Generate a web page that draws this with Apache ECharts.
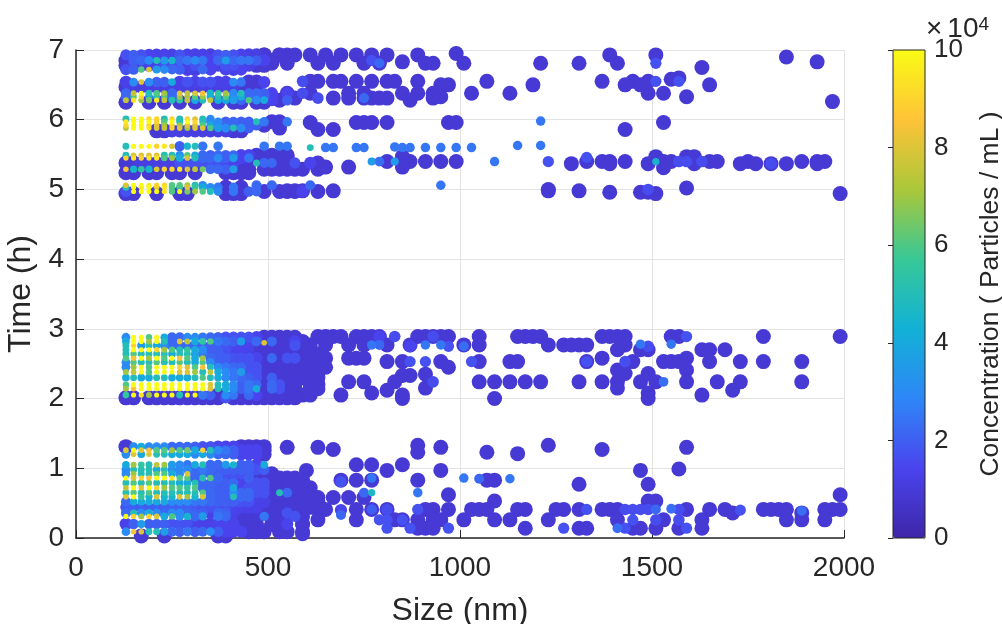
<!DOCTYPE html>
<html><head><meta charset="utf-8">
<style>html,body{margin:0;padding:0;background:#fff}#c{width:1002px;height:624px}</style>
<script src="https://cdn.jsdelivr.net/npm/echarts@6/dist/echarts.min.js"></script></head>
<body><div id="c"></div>
<script>
const parula=['#3e26a8','#4a44ee','#2e87f7','#12b1d6','#37c897','#abc739','#fec338','#f9fb15'];
const denseSizes=[130,150,170,190,210,230,250,270,290,310,330,350,370,390,410,430,450,470,490,510,530,550,570,590,610,630];
// concentration in units of 1e4 particles/mL, one value per denseSizes column (0 = no particle)
const denseUpper=[
[6.93,[1.7,2,1.7,1.4,1.3,1.3,1.3,1.7,1.3,1.2,1.3,1.2,1.7,2,1.7,1.3,1.2,1.2,.9,0,.9,.9]],
[6.85,[.9,2,2.2,3,5,3.5,4.5,2.2,2.5,3,2.5,1.4,2.2,3.5,2.2,2.5,2.5,2,1.4,.9]],
[6.78,[.9,1.3,1.3,1.3,1.3,1.7,1.7,1.3,1.3,1.7,1.3,1.3,1.3,1.7,1.7,1.3,1.3,.9,.9]],
[6.72,[1.7,2,6,8,3.5,3,2.2,2,1.3,1.2,2.2,1.4,0,1.4,1.3,1.4]],
[6.54,[1.3,3,8,3,2,2,4,1.3,1.7,1.3,1.7,1.7,1.3,1.3,3,2.5,.9,.9,1.4]],
[6.47,[.9,1.2,1.2,1.2,1.2,1.2,1.2,1.2,1.2,1.2,1.2,1.2,1.2,1.2,1.2,.9,.9,.9]],
[6.38,[2.2,7.5,10,5,6,7,2.2,8,7.5,8,8.5,4.5,5.5,7,3,5,2.2,2.2,2,1.4,0,1.4]],
[6.33,[2,6,9,4,5,6,2.2,7,7,6,7,4,5,6,3,4,2.2,2,2,1.4]],
[6.28,[7.5,9.5,7,6.5,9.5,7.5,5,5.5,7.5,4,5,7.5,4,4,3.5,2.2,6,3,4,1.4,.9,2]],
[6.25,[.9,0,0,.9,0,.9,0,.9,0,.9,0,0,.9,0,.9,.9,0,.9,.9]],
[6.01,[5,10,10,9,9,5,9,5,9,8,5,3,0,0,0,0,0,0,0]],
[5.97,[9.5,10,10,10,9,6,10,5,10,9,5,3,3,2,2.2,2,2,5,2.5,.9,.9,2.5]],
[5.92,[9,10,10,9,8,7,9,7,8,8,6,4,3,2.2,2.2,2,2,2,.9]],
[5.88,[7.5,10,10,9.5,8,7.5,9,8,7,8,8,6,3.5,3,5,3,2,0,0,0,.9]],
[5.84,[0,0,0,0,.9,.9,1.2,1.2,1.2,1.2,1.2,1.2,1.2,1.2,.9,.9]],
[5.62,[5,10,10,10,9,9.5,8,2,4.5,5,2.5,0,2.5,0,0,0,0,0,2.5,0,2.5,2.5]],
[5.49,[5,8,8,8,8,5,5,3,6,4,2.2,2,2.2,2,2.2,1.4,1.4,.9,.9,.9,.9,.9]],
[5.45,[9,9.5,9,9.5,9.5,6,7,4,8,5,2.2,2.2,3,2,3.5,1.4,2.5,.9,.9,.9,.9,.9]],
[5.38,[.9,.9,1.2,1.2,1.2,1.2,1.2,1.7,1.7,1.7,1.7,1.7,1.7,1.4,1.4,.9,.9,5,2.2,2.2,0,.9,1.7,0,1.4,.9]],
[5.29,[8.5,4.5,5.5,4.5,8,9,9,9.5,8,7.5,6.5,2.2,2.2,2,3.5,.9,.9,0,.9,.9,.9,.9,.9,.9,0,.9]],
[5.24,[.9,.9,0,.9,.9,0,.9,.9,0,.9,0,0,0,.9,.9,.9,.9]],
[5.06,[8,10,10,9.5,9,9,6,6,7,5,3,0,0,0,0,0,0,2.2,0,2.2,0,0,0,0,2.2]],
[5.03,[5,10,9.5,10,8,9.5,6,5.5,8,5.5,4,3,2.5,.9,2.5,.9]],
[4.97,[1.7,10,10,10,10,9.5,6,10,6.5,7,6,5,3,.9,2.5,.9,2,2.2,.9,0,.9,.9,.9,1.4,0,.9]],
[4.94,[.9,.9,0,0,.9,0,0,.9,.9,0,0,0,0,.9,.9,.9]]
];
const denseMiddle=[
[2.88,[3,10,10,6,10,4,2.2,2.2,3,3,2.5,2.2,2,1.7,1.7,1.7,1.7,1.4,.9,.9,.9,.9,.9]],
[2.82,[4,10,10,7,10,5,2.2,8,7.5,4,5.5,6,2.5,2.2,2,3.5,1.4,2.2,.9,2.2,.9,.9,1.4,.9]],
[2.76,[5,9,3.5,5,4,3,2.2,2.2,2.2,2.2,2.2,2,1.7,1.7,1.4,1.4,1.4,.9,.9,0,.9,.9,1.7,.9]],
[2.70,[5,10,10,10,9,7,6,5,5.5,4,3,2,2,1.7,1.3,1.3,.9,.9,.9,.9,0,.9,.9,.9,.9]],
[2.64,[5,6,5,5,5,5,4,5,5,3.5,2.5,2,2,1.7,1.4,1.4,1.2,.9,.9,.9,.9,.9,.9,.9,0,.9]],
[2.58,[6,8.5,10,7,10,6,10,8.5,6,4,7,2.2,2,2,1.7,1.7,1.7,1.4,.9,2.2,.9,1.7,1.7,.9,.9,.9]],
[2.52,[3,6,5,5,6,5,5,6,5,4,6,3,2,1.7,1.7,1.7,1.7,.9,.9,.9,.9,.9,.9,.9,.9,.9]],
[2.45,[3,7,10,6,10,10,10,9,8,6,8.5,5,3,2.5,2.2,2.2,1.7,1.7,.9,.9,.9,.9,.9,.9,.9,.9]],
[2.38,[7,7.5,10,6,10,10,10,8,8,7,5,7.5,4,3,2.5,3.5,1.7,1.7,.9,.9,.9,.9,.9,0,0,.9]],
[2.30,[4,5,4,4,5,5,4,4,4,5,6,5,4,3,2.5,2.2,2,1.7,.9,2,.9,.9,.9,.9,.9,.9]],
[2.20,[6,10,10,10,10,10,10,10,10,10,10,8,5,4,3,2,2.5,2.2,.9,2.2,1.7,.9,.9,0,.9,.9]],
[2.14,[7,8.5,10,10,10,10,10,10,10,10,10,8,5,4,3,2,2.5,4,.9,2.2,1.7,.9,.9,0,.9,.9]],
[2.05,[5.5,10,9.5,7,10,10,10,5,10,10,2.5,2,.9,3,2.5,.9,2.2,1.4,.9,.9,.9,.9,.9,.9,.9]],
[2.01,[.9,.9,0,.9,.9,.9,.9,.9,.9,.9,.9,.9,.9,1.7,.9,.9,.9,.9,.9,.9,.9,.9,.9]]
];
const denseLower=[
[1.31,[.9,3,4,3,3,3,2.2,2.2,2.2,2,1.7,1.7,1.4,1.4,1.4,.9,.9,.9,.9]],
[1.26,[8,10,8,8.5,6,6,7,6,6.5,4,9,5,3,2.5,2,1.4,1.4,1.4,.9]],
[1.2,[3,8,4,8,5,5,4,4,4,3,4,3,2.2,2.2,2,1.4,1.4,1.4,.9]],
[1.05,[4,7,5.5,5,7.5,7,3.5,3,2.5,4,5,2.2,2.2,3.5,4.5,2,2,1.4,4]],
[.98,[3,5,5,5,4,5,3,3,3,2.2,2.5,2.2,2,2,2,2,2,1.7,2]],
[.92,[3,7,5,5,6,6,4,3,8,2.2,2.2,2,2,1.7,1.7,1.7,1.7,.9,.9,.9]],
[.86,[10,8,9,8.5,10,10,9.5,6,6,2,5,6,2.2,1.4,1.4,.9,2,.9,.9,.9,.9,.9,.9]],
[.79,[5,6,5,6,5,5,5,4,4,5,2.2,2.2,2,2,2.2,1.4,1.4,1.7,1.7,.9,.9,.9,.9]],
[.72,[7.5,10,8,10,9,7,6,6,5.5,6,2.2,2,2,2,4,1.4,1.7,1.7,1.7,.9,.9,.9,.9,.9,.9]],
[.65,[5,6,5,6,5,5,5,5,5,5,6,2.2,2,2,3,2.2,2.2,1.7,1.7,.9,5,2.2,.9,.9]],
[.59,[8,10,5.5,4.5,8,4.5,4.5,8,7,4.5,8,2.2,2,2,5,2.2,2.2,.9,.9,.9,.9,.9,.9,.9]],
[.52,[2.2,4,4,4,4,4,3,3,3,2.5,2.5,2.2,2,2,2,1.7,1.7,1.3,1.3,.9,.9,.9,.9,.9,.9,.9]],
[.44,[1.7,2,2,2,2,2,2,2,2,1.7,1.7,1.7,1.7,1.7,1.4,1.3,1.3,1.3,.9,.9,.9,.9,.9,.9,.9,.9]],
[.36,[2.2,5,3,4,3,2.2,3,3,2.2,2,2,1.3,2.2,2,1.3,.9,.9,.9,.9,.9,.9,1.7]],
[.31,[10,9,7,9,8,4,6,3,4.5,2.2,3.5,0,2.5,2.2,.9,.9,.9,.9,2.5,.9,.9,.9,1.7,.9]],
[.2,[1.3,2,3.5,2,2,2,1.7,1.7,1.7,1.3,1.3,1.3,1.4,1.4,1.4,.9,.9,.9,0,.9,.9,1.4,0,.9]],
[.09,[3,8.5,8,5,5,3.5,2.2,2,2.5,2,2.2,3,2,1.4,1.4,1.4,.9,.9,.9,0,.9,.9,0,.9]],
[.03,[0,0,.9,0,0,.9,0,0,0,0,0,0,.9,.9]]
];
// isolated low-concentration particles: [time, sizes]
const darkUpper=[
[6.95,[990]],[6.93,[490,530,570,610,650,690,730,770,810,890,1390,1510]],
[6.81,[510,550,630,670,750,790,910,930,1010,1210,1310,1410]],[6.75,[1630]],[6.9,[1850]],[6.83,[850,1930]],
[6.26,[1970]],[6.6,[1570]],[6.58,[1550]],
[6.55,[610,630,670,690,730,770,810,830,890,1070,1370,1450,1490]],
[6.5,[950,970,1190,1430,1470,1650]],
[6.38,[550,610,710,750,850,890,930,1030,1130,1490,1530]],
[6.31,[570,670,710,750,770,790,810,930]],[6.33,[950,1590]],[6.28,[870]],
[5.96,[610,730,750,770,810,970,990,1530]],[5.86,[630,670,1430]],
[5.47,[850,1510,1590,1610]],[5.40,[810,870,910,950,990,1330,1370,1390,1430,1530,1550,1650,1670,1750,1890,1930,1950]],
[5.37,[1290,1390,1490,1610,1730,1770,1810,1850,1930]],[5.32,[650,710,850]],[5.31,[1530]],
[4.98,[550,570,590,670,1230,1310]],[5.0,[1230]],[4.96,[1390,1470,1490]],[4.94,[1510,1990]],[5.02,[1590]]
];
const darkMiddle=[
[2.89,[630,650,670,690,730,750,770,790,890,910,930,950,970,1050,1150,1170,1190,1210,1370,1390,1410,1430,1550,1570,1790,1990]],
[2.77,[610,650,710,750,810,870,1010,1050,1230,1270,1290,1310,1330,1430]],
[2.7,[1410,1470,1490,1630,1650,1690]],
[2.58,[650,710,730,750,1590,1370]],[2.53,[810,850,950,1050,1130,1150,1330,1450,1530,1550,1570,1650,1730,1790,1890]],
[2.45,[650,970]],[2.41,[1410,1590]],[2.36,[1430,1490]],[2.33,[850,870]],[2.35,[910]],
[2.24,[710,750,830,1050,1090,1130,1170,1210,1310,1370,1410,1470,1510,1590,1670,1730,1890]],
[2.15,[910,1410]],[2.12,[810,1710]],[2.08,[770,1490]],[2.05,[690,850,1630]],[2.0,[850,1090,1490]]
];
const darkLower=[
[1.33,[890,1230]],[1.3,[550,630,950,1590]],[1.27,[670,1370]],[1.23,[890,1070]],[1.21,[1150]],
[1.05,[730,770,850]],[.97,[810,950,1470,600]],[.99,[1570]],
[.83,[590,690,730,770,890,1070,1090]],[.77,[1310,1490]],
[.62,[530,970,1990]],[.58,[590,630,670,710,750]],[.53,[1090,1490,1510]],
[.41,[570,630,650,730,770,810,910,930,970,1030,1050,1070,1150,1170,1250,1270,1310,1370,1390,1410,1590,1650,1690,1790,1810,1830,1850,1950,1970,1990]],
[.36,[1710,1890]],
[.26,[630,730,830,850,890,930,950,1010,1090,1130,1230,1410,1530,1630,1850,1890,1950]],
[.2,[510,590]],[.14,[530,890,910,930,1170,1310,1330,1450,1470,1510,1570,1630]],[.06,[590]]
];
// lighter or smaller particles: [size, time, concentration]
const sparsePoints=[
[770,6.85,1.7],[790,6.81,2.2],[1510,6.81,1.7],[1510,6.55,1.7],[1570,6.55,1.7],[590,6.55,1.6],[590,6.38,1.6],[630,6.31,1.6],[750,6.31,2.2],
[1210,5.98,2.5],[830,5.61,2.5],[850,5.6,2.5],[870,5.6,2.5],[910,5.6,2.5],[950,5.6,2.5],[990,5.6,2.5],[1030,5.6,2.5],[1150,5.63,2.5],[1210,5.63,2.5],
[670,5.6,2.5],[730,5.6,2.5],[750,5.6,2.5],[610,5.6,5],[650,5.6,2.5],
[770,5.4,3.5],[790,5.4,2.3],[830,5.4,3.5],[1090,5.4,2.5],[1230,5.4,1.7],[1330,5.46,1.7],[1510,5.4,4.5],[1570,5.4,1.6],[1590,5.4,1.6],[1630,5.4,1.6],[1810,5.37,1.6],
[950,5.06,2.5],[1490,5.0,1.6],
[1010,2.75,2.3],[1470,2.78,2.5],[1490,2.75,1.6],[1550,2.78,2.5],[1590,2.89,1.7],[930,2.89,1.6],[830,2.89,1.6],[790,2.89,1.4],[910,2.77,2.5],[950,2.77,2.5],[770,2.77,2.5],[790,2.77,2.2],[970,2.75,1.7],[870,2.75,1.4],
[490,2.8,8],[1030,2.53,1.7],[870,2.53,1.7],[910,2.53,1.7],[1330,2.53,1.7],[1430,2.53,1.6],[930,2.24,1.6],[1530,2.24,2.3],
[1010,.86,2.5],[1050,.85,2.2],[1130,.85,2.5],[890,.65,2.5],[770,.86,2.5],[770,.65,4.7],[750,.65,2.2],[690,.81,1.7],[690,.33,2.2],[690,.4,1.4],
[770,.41,2],[810,.41,1.6],[890,.41,1.7],[1330,.41,1.7],[1430,.41,1.6],[1450,.41,1.6],[1470,.41,1.6],[1490,.41,1.6],[1510,.41,2.2],[1550,.42,2.3],[1570,.41,1.6],[1730,.4,1.7],[1890,.39,2.3],
[790,.26,1.7],[810,.26,1.7],[850,.26,1.7],[1450,.26,1.7],[1510,.26,1.6],[1570,.26,1.6],[810,.14,1.7],[870,.14,1.7],[970,.14,1.7],[1270,.14,1.7],[1410,.14,2.3],[1430,.14,1.7],[1590,.14,1.7]
];
const DARK=.9;
const points=[];
[denseUpper,denseMiddle,denseLower].forEach(b=>b.forEach(([t,cs])=>cs.forEach((c,i)=>{if(c)points.push([denseSizes[i],t,c]);})));
[darkUpper,darkMiddle,darkLower].forEach(b=>b.forEach(([t,ss])=>ss.forEach(s=>points.push([s,t,DARK]))));
sparsePoints.forEach(p=>points.push(p));
points.sort((a,b)=>a[2]-b[2]);
const F='"Liberation Sans",Arial,sans-serif',INK='#262626';
const chart=echarts.init(document.getElementById('c'),null,{renderer:'canvas'});
chart.setOption({
 animation:false,backgroundColor:'#fff',
 textStyle:{fontFamily:F},
 grid:[{left:76,top:50,width:768,height:488,outerBoundsMode:'none'},
       {left:893,top:50,width:32,height:488,z:10,show:true,backgroundColor:'transparent',borderColor:INK,borderWidth:1,outerBoundsMode:'none'}],
 xAxis:[{type:'value',gridIndex:0,min:0,max:2000,interval:500,
   name:'Size (nm)',nameLocation:'middle',nameGap:57,nameTextStyle:{fontSize:32,color:INK,fontFamily:F},
   axisLine:{show:true,onZero:false,lineStyle:{color:INK,width:1.5}},
   axisTick:{show:true,inside:true,length:8,lineStyle:{color:INK,width:1}},
   axisLabel:{fontSize:28,color:INK,margin:16,fontFamily:F,formatter:v=>String(v),showMinLabel:true,showMaxLabel:true,hideOverlap:false},
   splitLine:{show:true,lineStyle:{color:'#e3e3e3',width:1}}},
  {type:'value',gridIndex:1,min:0,max:1,show:false}],
 yAxis:[{type:'value',gridIndex:0,min:0,max:7,interval:1,
   name:'Time (h)',nameLocation:'middle',nameGap:34,nameTextStyle:{fontSize:32,color:INK,fontFamily:F},
   axisLine:{show:true,onZero:false,lineStyle:{color:INK,width:1.5}},
   axisTick:{show:true,inside:true,length:8,lineStyle:{color:INK,width:1}},
   axisLabel:{fontSize:28,color:INK,margin:12,fontFamily:F,showMinLabel:true,showMaxLabel:true,hideOverlap:false},
   splitLine:{show:true,lineStyle:{color:'#e3e3e3',width:1}}},
  {type:'value',gridIndex:1,position:'right',min:0,max:10,interval:2,
   name:'Concentration ( Particles / mL )',nameLocation:'middle',nameGap:52,nameRotate:90,
   nameTextStyle:{fontSize:26.5,color:INK,fontFamily:F},
   axisLine:{show:false},axisTick:{show:true,inside:true,length:5,lineStyle:{color:INK,width:1}},splitLine:{show:false},
   axisLabel:{fontSize:26,color:INK,margin:9,fontFamily:F,showMinLabel:true,showMaxLabel:true,hideOverlap:false}}],
 title:{text:'{x|×}10{s|4}',left:926,top:15,padding:0,
   textStyle:{fontSize:28,color:INK,fontWeight:'normal',fontFamily:F,
     rich:{x:{fontSize:28,color:INK,padding:[0,5,0,0],fontFamily:F},s:{fontSize:19,color:INK,verticalAlign:'top',lineHeight:14,fontFamily:F}}}},
 visualMap:{type:'continuous',seriesIndex:0,dimension:2,min:0,max:10,calculable:false,
   left:893,top:50,itemWidth:32,itemHeight:488,padding:0,text:['',''],showLabel:false,
   inRange:{color:parula},outOfRange:{color:parula[7]}},
 series:[{type:'scatter',xAxisIndex:0,yAxisIndex:0,data:points,large:false,clip:false,
   symbol:'circle',symbolSize:v=>15*Math.pow(.9/Math.max(.9,v[2]),.45),
   itemStyle:{opacity:1,borderWidth:0}},
  {type:'scatter',xAxisIndex:1,yAxisIndex:1,data:[],silent:true}]
});
</script></body></html>
